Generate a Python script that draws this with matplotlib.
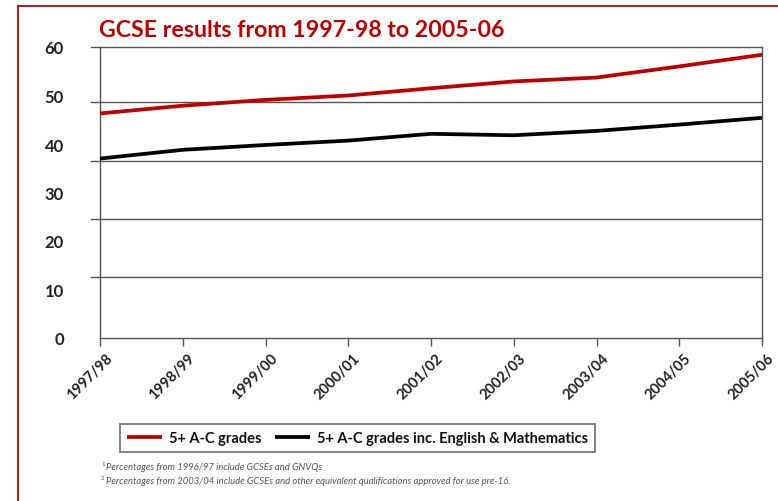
import matplotlib
matplotlib.use("Agg")
import matplotlib.pyplot as plt
from matplotlib.lines import Line2D
import matplotlib.transforms as mtransforms

plt.rcParams['font.family'] = ['Lato', 'DejaVu Sans']

categories = ["1997/98", "1998/99", "1999/00", "2000/01", "2001/02",
              "2002/03", "2003/04", "2004/05", "2005/06"]
grades_ac = [46.3, 47.9, 49.1, 50.0, 51.5, 52.9, 53.7, 56.0, 58.4]
grades_ac_em = [37.0, 38.8, 39.8, 40.7, 42.1, 41.8, 42.7, 44.0, 45.4]
ytick_labels = [0, 10, 20, 30, 40, 50, 60]
grid_levels = [12.5, 24.5, 36.5, 48.6]

title = "GCSE results from 1997-98 to 2005-06"
series_names = ["5+ A-C grades", "5+ A-C grades inc. English & Mathematics"]
footnotes = ["Percentages from 1996/97 include GCSEs and GNVQs",
             "Percentages from 2003/04 include GCSEs and other equivalent qualifications approved for use pre-16."]

RED = "#C00000"
W, H = 778, 502
fig = plt.figure(figsize=(W / 100, H / 100), dpi=100)
fig.patch.set_facecolor("white")

def fx(px):
    return px / W

def fy(py):
    return 1 - py / H

ax = fig.add_axes([fx(100), fy(339), fx(762) - fx(100), fy(48) - fy(339)])
x = list(range(len(categories)))

ax.plot(x, grades_ac, color=RED, lw=2.7, solid_capstyle='butt', label=series_names[0], zorder=3)
ax.plot(x, grades_ac_em, color="black", lw=2.7, solid_capstyle='butt', label=series_names[1], zorder=3)

ax.set_xlim(0, len(categories) - 1)
ax.set_ylim(0, 60)

for g in grid_levels:
    ax.axhline(g, color="#555555", lw=1.0, zorder=1)

for s in ax.spines.values():
    s.set_color("#555555")
    s.set_linewidth(1.0)

# x ticks
ax.set_xticks(x)
ax.set_xticklabels([])
ax.tick_params(axis='x', direction='out', length=6, width=1.0, color="#555555")
for i, lab in enumerate(categories):
    ax.text(i, 0, lab, rotation=45, ha='right', va='top', rotation_mode='anchor',
            fontsize=10.5, fontweight='bold', color='#222222',
            transform=mtransforms.offset_copy(ax.transData, fig=fig, x=5, y=-13, units='dots'))

# y ticks: stubs at gridlines, labels at 10s
ax.set_yticks([])
ax.set_yticks(ytick_labels, minor=True)
ax.set_yticklabels([str(v) for v in ytick_labels], minor=True, fontsize=12,
                   fontweight='bold', color='#222222')
ax.tick_params(axis='y', which='minor', length=0, pad=26)
for g in grid_levels + [60]:
    ax.plot([-0.11, 0], [g, g], color="#555555", lw=1.0, clip_on=False, zorder=1)

# Title
fig.text(fx(99), fy(31), title, color=RED, fontsize=16.7, fontweight='bold',
         ha='left', va='center')

# Red frame
fig.add_artist(Line2D([fx(18), 1.0], [fy(7), fy(7)], color=RED, lw=1.3))
fig.add_artist(Line2D([fx(18), fx(18)], [fy(7), 0.0], color=RED, lw=1.3))

# Legend
leg = fig.legend(loc='center', bbox_to_anchor=(fx(357.5), fy(439)), ncol=2,
                 frameon=True, fancybox=False, edgecolor='#555555',
                 prop={'weight': 'bold', 'size': 10.5}, handlelength=2.4,
                 handletextpad=0.5, columnspacing=0.9, borderpad=0.45,
                 borderaxespad=0)
leg.get_frame().set_linewidth(1.3)
for t in leg.get_texts():
    t.set_color('#111111')

# Footnotes
for k, (ypx, txt) in enumerate(zip([468, 482], footnotes)):
    fig.text(fx(101), fy(ypx - 3), str(k + 1), fontsize=4.5, color='#555555',
             ha='left', va='center')
    fig.text(fx(106), fy(ypx), txt, fontsize=6.8, style='italic', color='#555555',
             ha='left', va='center')

fig.savefig("out.png", dpi=100)
